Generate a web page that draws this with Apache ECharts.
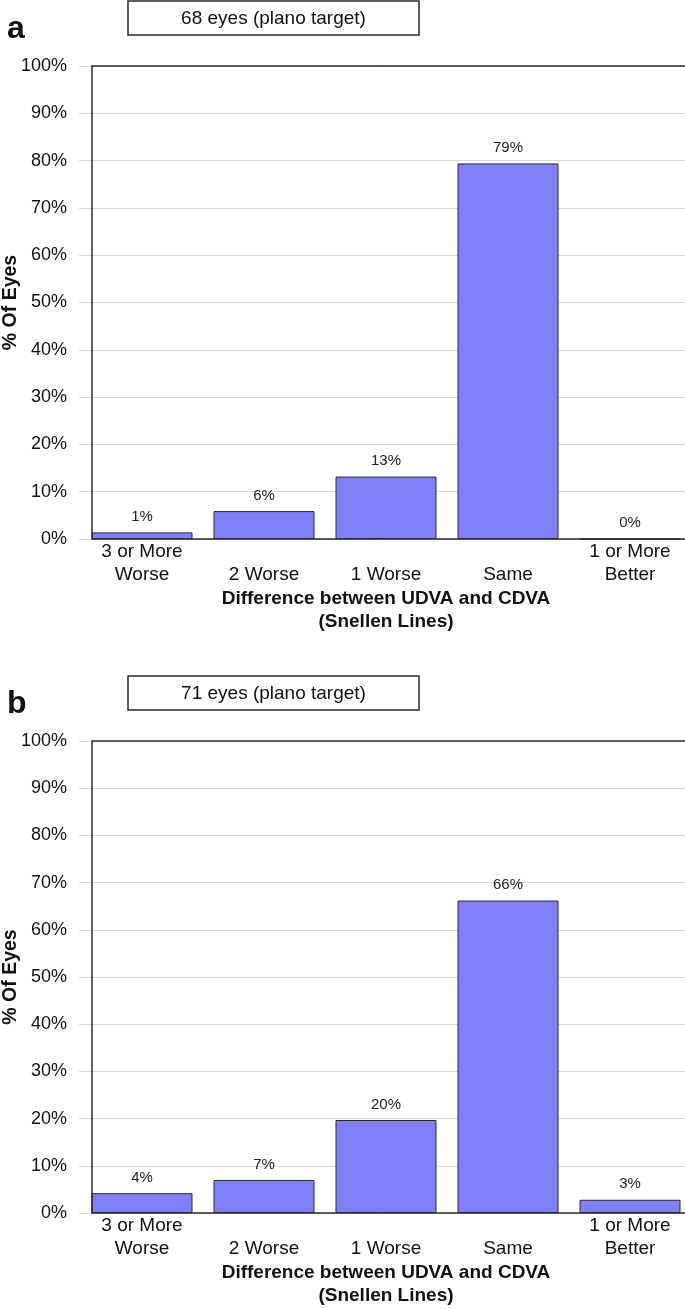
<!DOCTYPE html>
<html>
<head>
<meta charset="utf-8">
<script src="https://cdn.jsdelivr.net/npm/echarts@6/dist/echarts.min.js"></script>
<style>
html,body{margin:0;padding:0;background:#fff;}
#chart{width:685px;height:1309px;}
</style>
</head>
<body>
<div id="chart"></div>
<script>
// ---- data ----
const categories = ['3 or More Worse', '2 Worse', '1 Worse', 'Same', '1 or More Better'];
const panelA = [1.4, 5.9, 13.2, 79.4, 0];     // % of 68 eyes
const panelB = [4.2, 7.0, 19.7, 66.2, 2.8];   // % of 71 eyes
const panelLetters = ['a', 'b'];
const panelTitles = ['68 eyes (plano target)', '71 eyes (plano target)'];
const xTitle = 'Difference between UDVA and CDVA\n(Snellen Lines)';
const yTitle = '% Of Eyes';

// ---- layout ----
const FONT = '"Liberation Sans", Arial, Helvetica, sans-serif';
const grids = [
  {left: 81, top: 66, width: 610, height: 473, outerBoundsMode: 'none', containLabel: false},
  {left: 81, top: 741, width: 610, height: 472, outerBoundsMode: 'none', containLabel: false}
];
const FRAME_LEFT = 92;
const BAR_COLOR = '#8080F8';

function catLabel(v) {
  const i = v.indexOf('or More');
  if (i >= 0) { return v.slice(0, i + 7) + '\n' + v.slice(i + 8); }
  return '\n' + v;
}

const xAxes = [], yAxes = [], series = [], graphic = [];
[panelA, panelB].forEach(function (vals, k) {
  const g = grids[k];
  xAxes.push({
    gridIndex: k, type: 'category', data: categories,
    axisLine: {show: false}, axisTick: {show: false},
    axisLabel: {formatter: catLabel, fontFamily: FONT, fontSize: 19, lineHeight: 23.5, color: '#111', margin: 1, interval: 0},
    name: xTitle, nameLocation: 'middle', nameGap: 48.5, nameMoveOverlap: false,
    nameTextStyle: {fontFamily: FONT, fontSize: 19, fontWeight: 'bold', lineHeight: 23, color: '#111'}
  });
  yAxes.push({
    gridIndex: k, type: 'value', min: 0, max: 100, interval: 10,
    axisLine: {show: false},
    axisTick: {show: true, length: 2, lineStyle: {color: '#d6d6d6'}},
    splitLine: {show: true, lineStyle: {color: '#d9d9d9', width: 1}},
    axisLabel: {formatter: '{value}%', fontFamily: FONT, fontSize: 18, color: '#111', margin: 14},
    name: yTitle, nameLocation: 'middle', nameRotate: 90, nameGap: 60, nameMoveOverlap: false,
    nameTextStyle: {fontFamily: FONT, fontSize: 19.5, fontWeight: 'bold', color: '#111'}
  });
  series.push({
    type: 'bar', xAxisIndex: k, yAxisIndex: k, data: vals, barWidth: 101,
    itemStyle: {color: BAR_COLOR, borderColor: '#2a2a2a', borderWidth: 1},
    label: {show: true, position: 'top', distance: 8, fontFamily: FONT, fontSize: 15, color: '#222',
      formatter: function (p) { return Math.round(p.value) + '%'; }}
  });
  // plot frame
  graphic.push({
    type: 'rect', z: 100, silent: true,
    shape: {x: FRAME_LEFT, y: g.top, width: 700, height: g.height},
    style: {fill: 'transparent', stroke: '#2a2a2a', lineWidth: 1.5}
  });
  // title box
  const boxTop = g.top - 65;
  graphic.push({
    type: 'rect', z: 100, silent: true,
    shape: {x: 128, y: boxTop, width: 291, height: 34},
    style: {fill: '#fff', stroke: '#2a2a2a', lineWidth: 1.5}
  });
  graphic.push({
    type: 'text', z: 101, silent: true, x: 273.5, y: boxTop + 17.5,
    style: {text: panelTitles[k], fill: '#111', font: '19px ' + FONT, align: 'center', verticalAlign: 'middle'}
  });
  // panel letter
  graphic.push({
    type: 'text', z: 101, silent: true, x: 7, y: g.top - 21,
    style: {text: panelLetters[k], fill: '#111', font: 'bold 32px ' + FONT, align: 'left', verticalAlign: 'bottom'}
  });
});

const chart = echarts.init(document.getElementById('chart'), null, {renderer: 'canvas'});
chart.setOption({
  backgroundColor: '#fff',
  animation: false,
  grid: grids,
  xAxis: xAxes,
  yAxis: yAxes,
  series: series,
  graphic: graphic
});
</script>
</body>
</html>
